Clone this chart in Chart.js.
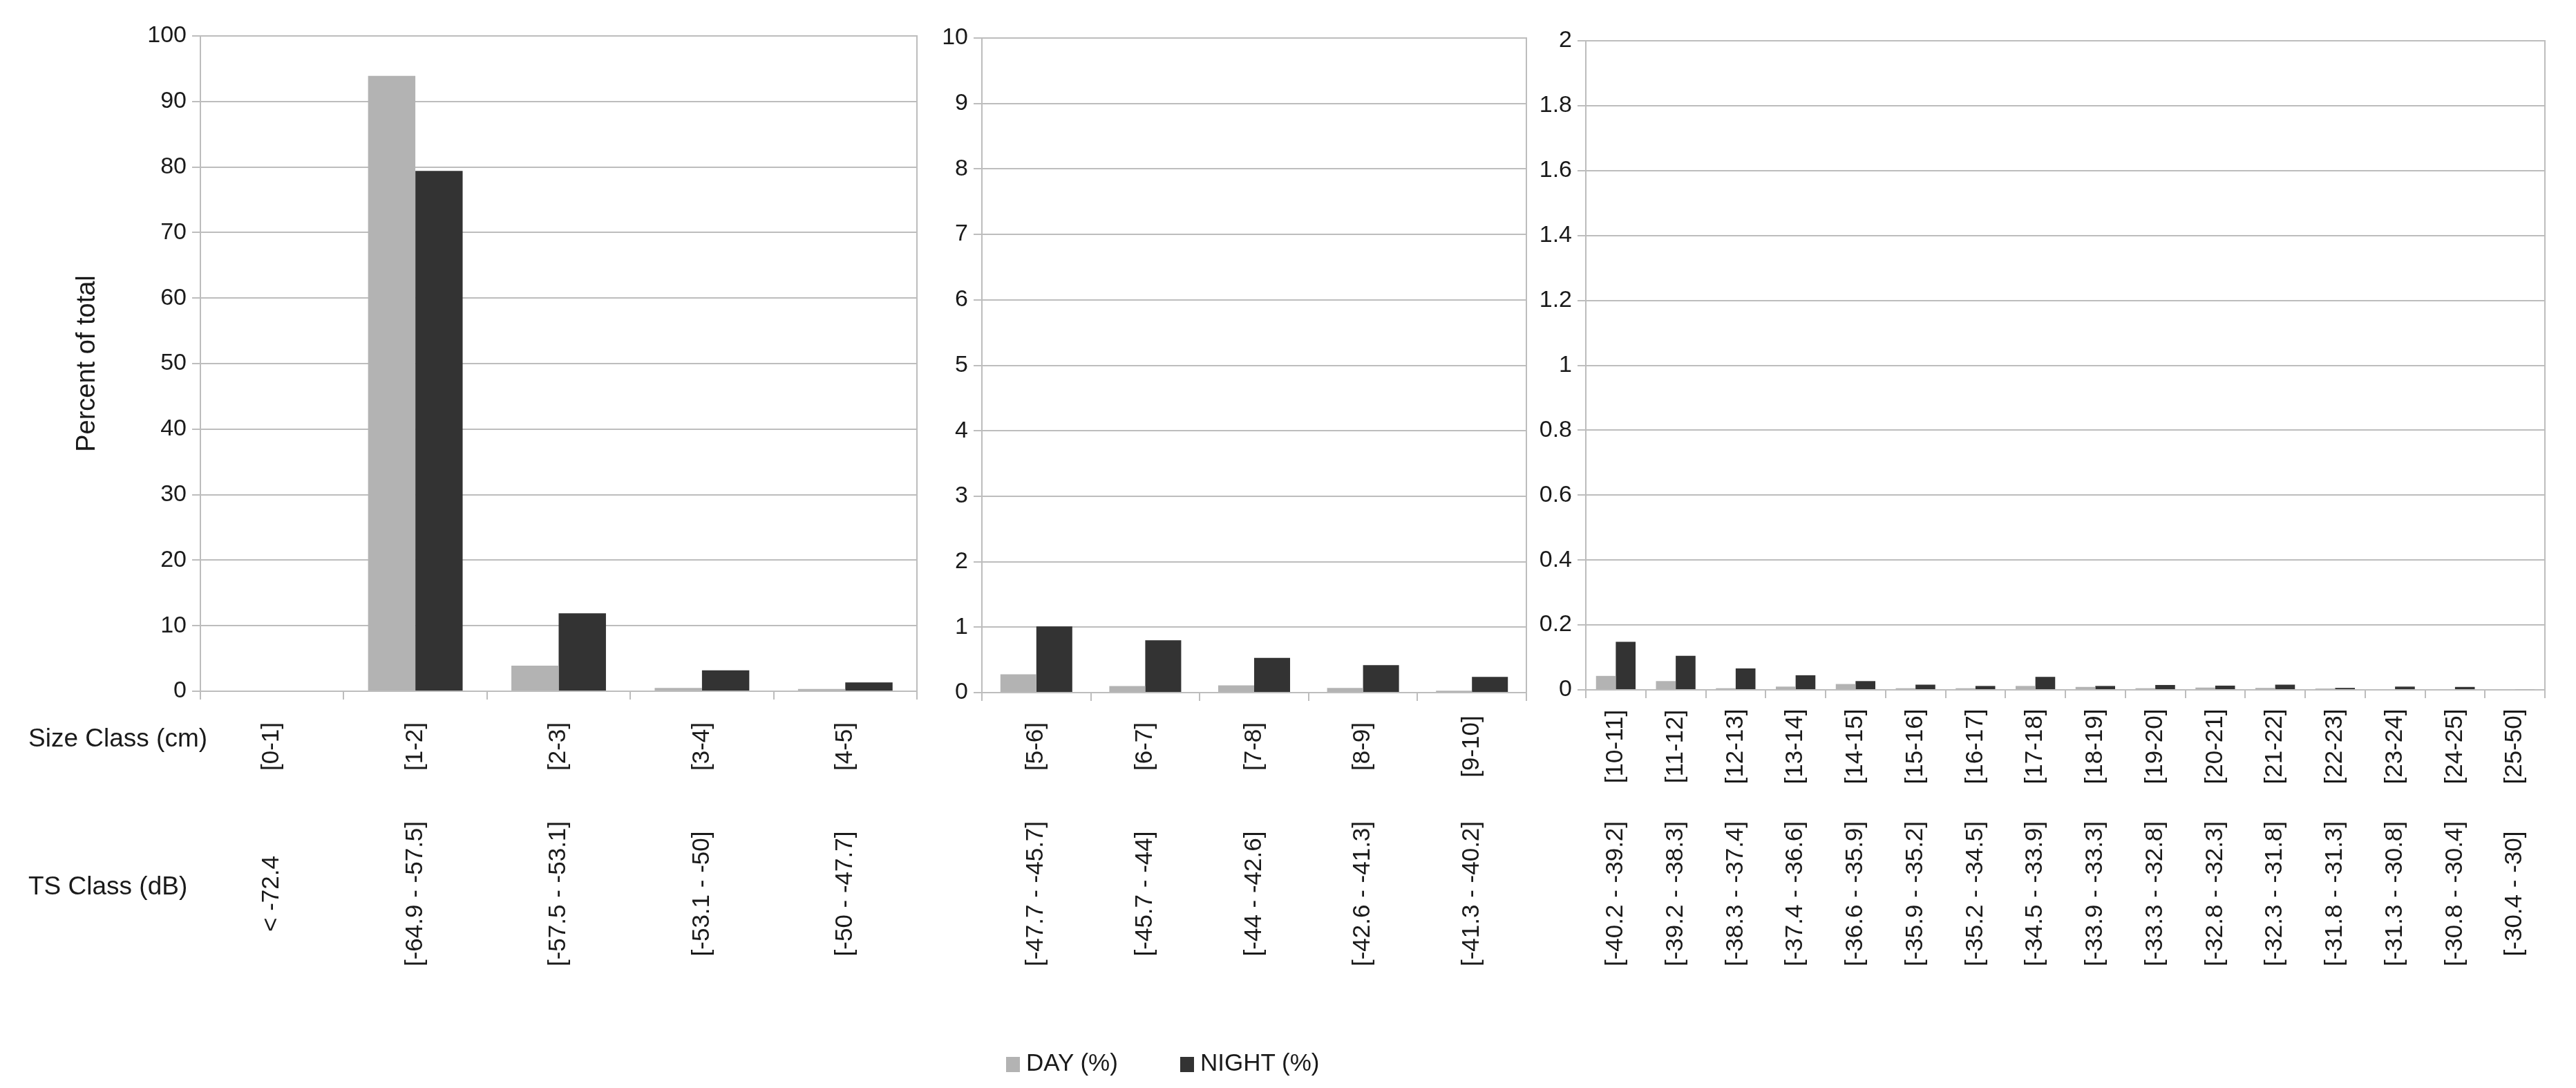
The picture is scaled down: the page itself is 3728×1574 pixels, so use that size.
<!DOCTYPE html>
<html>
<head>
<meta charset="utf-8">
<title>Size class / TS class distribution</title>
<script src="https://cdn.jsdelivr.net/npm/chart.js@4"></script>
<style>
  html, body { margin: 0; padding: 0; background: #fff; }
  body { width: 3728px; height: 1574px; position: relative; overflow: hidden;
         font-family: "Liberation Sans", Arial, sans-serif; color: #1a1a1a; }
  .panel { position: absolute; top: 0; height: 1574px; }
  .key { position: absolute; top: 1515px; font-size: 35px; line-height: 44px; white-space: nowrap; }
  .key i { display: inline-block; width: 20px; height: 22px; margin-right: 9px; vertical-align: -2px; }
</style>
</head>
<body>

<div class="panel" style="left:0px;width:1330px"><canvas id="chartSmall"></canvas></div>
<div class="panel" style="left:1330px;width:885px"><canvas id="chartMid"></canvas></div>
<div class="panel" style="left:2215px;width:1513px"><canvas id="chartLarge"></canvas></div>

<div class="key" style="left:1456px"><i style="background:#b3b3b3"></i>DAY (%)</div>
<div class="key" style="left:1708px"><i style="background:#333333"></i>NIGHT (%)</div>

<script>
// values (percent of total)
var sizeSmall = ['[0-1]', '[1-2]', '[2-3]', '[3-4]', '[4-5]'];
var tsSmall = ['< -72.4', '[-64.9 - -57.5]', '[-57.5 - -53.1]', '[-53.1 - -50]', '[-50 - -47.7]'];
var daySmall = [0, 93.9, 3.9, 0.5, 0.35];
var nightSmall = [0, 79.4, 11.9, 3.2, 1.35];

var sizeMid = ['[5-6]', '[6-7]', '[7-8]', '[8-9]', '[9-10]'];
var tsMid = ['[-47.7 - -45.7]', '[-45.7 - -44]', '[-44 - -42.6]', '[-42.6 - -41.3]', '[-41.3 - -40.2]'];
var dayMid = [0.28, 0.10, 0.11, 0.07, 0.03];
var nightMid = [1.01, 0.80, 0.53, 0.42, 0.24];

var sizeLarge = ['[10-11]', '[11-12]', '[12-13]', '[13-14]', '[14-15]', '[15-16]', '[16-17]', '[17-18]',
                 '[18-19]', '[19-20]', '[20-21]', '[21-22]', '[22-23]', '[23-24]', '[24-25]', '[25-50]'];
var tsLarge = ['[-40.2 - -39.2]', '[-39.2 - -38.3]', '[-38.3 - -37.4]', '[-37.4 - -36.6]', '[-36.6 - -35.9]',
               '[-35.9 - -35.2]', '[-35.2 - -34.5]', '[-34.5 - -33.9]', '[-33.9 - -33.3]', '[-33.3 - -32.8]',
               '[-32.8 - -32.3]', '[-32.3 - -31.8]', '[-31.8 - -31.3]', '[-31.3 - -30.8]', '[-30.8 - -30.4]',
               '[-30.4 - -30]'];
var dayLarge = [0.043, 0.027, 0.005, 0.010, 0.018, 0.005, 0.005, 0.012, 0.009, 0.005, 0.007, 0.006, 0.004, 0, 0, 0.002];
var nightLarge = [0.148, 0.105, 0.066, 0.045, 0.027, 0.016, 0.012, 0.040, 0.012, 0.015, 0.013, 0.016, 0.006, 0.010, 0.009, 0.002];

var FONT = '"Liberation Sans", Arial, sans-serif';
var GRID = '#bdbdbd';
var TEXT = '#1a1a1a';

// rotated class labels under each bar group, plus the row titles on the first panel
var classLabels = {
  id: 'classLabels',
  afterDraw: function (chart, args, opts) {
    var ctx = chart.ctx;
    var xs = chart.scales.x;
    ctx.save();
    ctx.fillStyle = TEXT;
    ctx.font = '35px ' + FONT;
    ctx.textAlign = 'center';
    ctx.textBaseline = 'middle';
    function rotated(text, x, y) {
      ctx.save();
      ctx.translate(x, y);
      ctx.rotate(-Math.PI / 2);
      ctx.fillText(text, 0, 0);
      ctx.restore();
    }
    opts.size.forEach(function (lbl, i) { rotated(lbl, xs.getPixelForValue(i), 1080); });
    opts.ts.forEach(function (lbl, i) { rotated(lbl, xs.getPixelForValue(i), 1293); });
    if (opts.rowTitles) {
      ctx.textAlign = 'left';
      ctx.font = '37px ' + FONT;
      ctx.fillText('Size Class (cm)', 41, 1070);
      ctx.fillText('TS Class (dB)', 41, 1284);
    }
    ctx.restore();
  }
};

function chartPrint(targetId, sizeLabels, tsLabels, day, night, yMax, yStep, box) {

  var ctx = document.getElementById(targetId);
  new Chart(ctx, {
    type: 'bar',
    data: {
      labels: sizeLabels,
      datasets: [{
        label: 'DAY (%)',
        data: day,
        backgroundColor: '#b3b3b3'
      }, {
        label: 'NIGHT (%)',
        data: night,
        backgroundColor: '#333333'
      }]
    },
    plugins: [classLabels],
    options: {
      responsive: true,
      maintainAspectRatio: false,
      animation: false,
      categoryPercentage: 0.66,
      barPercentage: 1,
      layout: { padding: { top: box.top, right: box.right, left: 0, bottom: 0 } },
      plugins: {
        legend: { display: false },
        tooltip: { enabled: false },
        classLabels: { size: sizeLabels, ts: tsLabels, rowTitles: box.rowTitles }
      },
      scales: {
        x: {
          grid: { offset: true, drawOnChartArea: false, tickLength: 12, color: GRID, lineWidth: 2 },
          border: { color: GRID, width: 2 },
          ticks: { display: false },
          afterFit: function (s) { s.height = 1574 - box.bottom; s.paddingLeft = 0; s.paddingRight = 0; }
        },
        y: {
          min: 0,
          max: yMax,
          ticks: {
            stepSize: yStep,
            padding: 8,
            color: TEXT,
            font: { family: FONT, size: 34 },
            callback: function (v) { return String(Math.round(v * 10) / 10); }
          },
          grid: { color: GRID, lineWidth: 2, tickLength: 12 },
          border: { color: GRID, width: 2 },
          title: {
            display: !!box.yTitle,
            text: box.yTitle || '',
            color: TEXT,
            font: { family: FONT, size: 38 },
            padding: { top: 104, bottom: 0 }
          },
          afterFit: function (s) { s.width = box.axis; s.paddingTop = 0; s.paddingBottom = 0; }
        },
        edge: {
          position: 'right',
          ticks: { display: false },
          grid: { display: false, drawTicks: false },
          border: { color: GRID, width: 2 },
          afterFit: function (s) { s.width = 0; s.paddingTop = 0; s.paddingBottom = 0; }
        }
      }
    }
  });
}

chartPrint('chartSmall', sizeSmall, tsSmall, daySmall, nightSmall, 100, 10,
  { axis: 290, top: 52, right: 3, bottom: 1000, rowTitles: true, yTitle: 'Percent of total' });
chartPrint('chartMid', sizeMid, tsMid, dayMid, nightMid, 10, 1,
  { axis: 91, top: 55, right: 6, bottom: 1002 });
chartPrint('chartLarge', sizeLarge, tsLarge, dayLarge, nightLarge, 2, 0.2,
  { axis: 80, top: 59, right: 45, bottom: 998 });
</script>
</body>
</html>
